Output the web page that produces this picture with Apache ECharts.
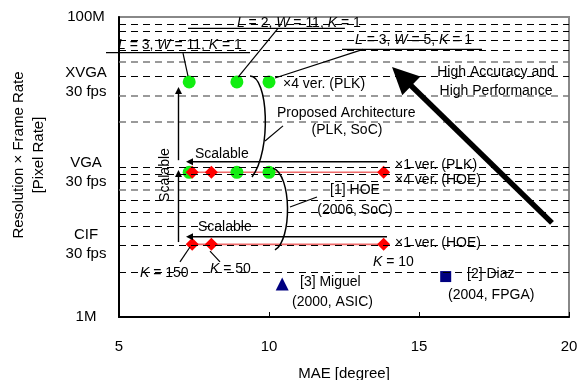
<!DOCTYPE html>
<html><head><meta charset="utf-8">
<script src="https://cdn.jsdelivr.net/npm/echarts@6/dist/echarts.min.js"></script>
<style>html,body{margin:0;padding:0;background:#fff}#c{width:577px;height:380px}</style>
</head><body><div id="c"></div>
<script>
const FONT = '"Liberation Sans", Arial, sans-serif';

// ---- data ----
const xTicks = [5, 10, 15, 20];
const yLabelValues = [1e6, 3.05e6, 9.22e6, 3.69e7, 1e8];
const yLabelTexts = ['1M', 'CIF\n30 fps', 'VGA\n30 fps', 'XVGA\n30 fps', '100M'];
const gridValues = [2e6, 3e6, 4e6, 5e6, 6e6, 7e6, 8e6, 9e6, 1e7, 2e7, 3e7, 4e7, 5e7, 6e7, 7e7, 8e7, 9e7];
const grayGridValues = [7e6, 2e7, 3e7, 5e7];
const plkMae = [7.34, 8.93, 10.0];
const plkXVGA = [3.69e7, 3.69e7, 3.69e7];
const plkVGA = [9.22e6, 9.22e6, 9.22e6];
const hoeMae = [7.44, 8.08, 13.82];
const hoeVGA = [9.22e6, 9.22e6, 9.22e6];
const hoeCIF = [3.05e6, 3.05e6, 3.05e6];
const miguelPoint = [10.44, 1.66e6];
const diazPoint = [15.89, 1.86e6];

const pairs = (xs, ys) => xs.map((x, i) => [x, ys[i]]);

const chart = echarts.init(document.getElementById('c'), null, {renderer: 'canvas'});

chart.setOption({
  animation: false,
  textStyle: {fontFamily: FONT},
  grid: {left: 119, right: 8, top: 17, bottom: 63, show: true, borderColor: '#888', borderWidth: 2,
    containLabel: false, outerBoundsMode: 'none'},
  xAxis: {
    type: 'value', min: xTicks[0], max: xTicks[xTicks.length - 1], interval: 5,
    name: 'MAE [degree]', nameLocation: 'middle', nameGap: 49,
    nameTextStyle: {fontSize: 15, color: '#000', fontFamily: FONT},
    axisLine: {show: true, lineStyle: {color: '#000', width: 2}},
    axisTick: {show: true, inside: true, length: 5, lineStyle: {color: '#000', width: 1}},
    axisLabel: {fontSize: 15, color: '#000', margin: 22, fontFamily: FONT},
    splitLine: {show: false}
  },
  yAxis: {
    type: 'log', logBase: 10, min: 1e6, max: 1e8,
    axisLine: {show: true, lineStyle: {color: '#000', width: 2}},
    axisTick: {show: false},
    splitLine: {show: false},
    axisLabel: {
      customValues: yLabelValues,
      fontSize: 15, color: '#000', fontFamily: FONT, align: 'center', verticalAlign: 'middle',
      margin: 33, lineHeight: 19, hideOverlap: false,
      formatter: function (v) {
        let best = 0, bd = Infinity;
        yLabelValues.forEach((c, i) => { const d = Math.abs(Math.log10(v) - Math.log10(c)); if (d < bd) { bd = d; best = i; } });
        return yLabelTexts[best];
      }
    }
  },
  series: [
    {
      type: 'scatter', data: [], z: 0, silent: true,
      markLine: {
        silent: true, symbol: ['none', 'none'], label: {show: false}, animation: false,
        data: gridValues.map(v => ({yAxis: v, lineStyle: grayGridValues.indexOf(v) >= 0 ?
          {color: '#7a7a7a', width: 1.6, type: [7, 5]} : {color: '#000', width: 1, type: [7, 5]}}))
      }
    },
    {type: 'line', data: pairs(hoeMae, hoeVGA), showSymbol: false, symbol: 'none', z: 1,
     lineStyle: {color: '#f06a6a', width: 1.6}},
    {type: 'line', data: pairs(hoeMae, hoeCIF), showSymbol: false, symbol: 'none', z: 1,
     lineStyle: {color: '#f06a6a', width: 1.6}},
    {type: 'scatter', data: pairs(plkMae, plkXVGA).concat(pairs(plkMae, plkVGA)), z: 2,
     symbol: 'circle', symbolSize: 13, itemStyle: {color: '#11ee11', opacity: 1}},
    {type: 'scatter', data: pairs(hoeMae, hoeVGA).concat(pairs(hoeMae, hoeCIF)), z: 3,
     symbol: 'diamond', symbolSize: 13, itemStyle: {color: '#ff0000', opacity: 1}},
    {type: 'scatter', data: [miguelPoint], z: 3, symbol: 'triangle', symbolSize: 13,
     itemStyle: {color: '#000080', opacity: 1}},
    {type: 'scatter', data: [diazPoint], z: 3, symbol: 'rect', symbolSize: 11,
     itemStyle: {color: '#000080', opacity: 1}}
  ]
});

// ---- annotations placed in data units (MAE, M pixel/s) ----
function P(x, m) { return chart.convertToPixel({gridIndex: 0}, [x, m * 1e6]); }
const G = [];
const rich = {i: {fontStyle: 'italic', fontSize: 14, fontFamily: FONT, fill: '#000'}};
function txt(s, x, m, align, rot) {
  const p = P(x, m);
  G.push({type: 'text', x: p[0], y: p[1], rotation: rot || 0, z: 60, silent: true,
    style: {text: s, fill: '#000', fontSize: 14, fontFamily: FONT, align: align || 'left',
      verticalAlign: 'middle', rich: rich}});
}
function line(a, b, w) {
  const p = P(a[0], a[1]), q = P(b[0], b[1]);
  G.push({type: 'line', z: 55, silent: true, shape: {x1: p[0], y1: p[1], x2: q[0], y2: q[1]},
    style: {stroke: '#000', lineWidth: w || 1.2}});
}
function curve(a, c1, c2, b, w) {
  const p = P(a[0], a[1]), k1 = P(c1[0], c1[1]), k2 = P(c2[0], c2[1]), q = P(b[0], b[1]);
  G.push({type: 'bezierCurve', z: 55, silent: true,
    shape: {x1: p[0], y1: p[1], cpx1: k1[0], cpy1: k1[1], cpx2: k2[0], cpy2: k2[1], x2: q[0], y2: q[1]},
    style: {stroke: '#000', lineWidth: w || 1.5, fill: null}});
}
function arrow(a, b, w, hl, hw) {
  const p = P(a[0], a[1]), q = P(b[0], b[1]);
  const dx = q[0] - p[0], dy = q[1] - p[1], L = Math.hypot(dx, dy), ux = dx / L, uy = dy / L;
  const bx = q[0] - ux * hl, by = q[1] - uy * hl;
  G.push({type: 'line', z: 55, silent: true,
    shape: {x1: p[0], y1: p[1], x2: q[0] - ux * hl * 0.7, y2: q[1] - uy * hl * 0.7},
    style: {stroke: '#000', lineWidth: w}});
  G.push({type: 'polygon', z: 56, silent: true,
    shape: {points: [[q[0], q[1]], [bx - uy * hw, by + ux * hw], [bx + uy * hw, by - ux * hw]]},
    style: {fill: '#000'}});
}

// parameter labels + underlines + leaders
txt('{i|L} = 2, {i|W} = 11, {i|K} = 1', 8.93, 91.6);
line([7.3, 84.1], [12.53, 84.1]);
line([10.3, 84.1], [8.97, 39.8]);
txt('{i|L} = 3, {i|W} = 11, {i|K} = 1', 4.967, 65.1);
line([4.567, 57.8], [9.367, 57.8]);
line([7.133, 57.5], [7.3, 40.4]);
txt('{i|L} = 3, {i|W} = 5, {i|K} = 1', 12.867, 70.3);
line([12.433, 60.9], [17.1, 60.9]);
line([13.133, 60.9], [10.2, 39.2]);
txt('\u00d74 ver. (PLK)', 10.467, 35.7);

// proposed architecture
txt('Proposed Architecture', 10.267, 22.9);
txt('(PLK, SoC)', 12.6, 17.6, 'center');
line([10.467, 18.8], [9.867, 14.9]);
curve([9.367, 40.4], [9.967, 40.4], [10.1, 13.0], [9.433, 8.58]);

// HOE
txt('[1] HOE', 12.867, 7.03, 'center');
txt('(2006, SoC)', 12.867, 5.17, 'center');
line([11.6, 6.31], [10.7, 5.41]);
curve([10.133, 9.85], [10.767, 8.84], [10.767, 3.26], [10.2, 2.80]);

// version labels
txt('\u00d71 ver. (PLK)', 14.2, 10.3);
txt('\u00d74 ver. (HOE)', 14.2, 8.19);
txt('\u00d71 ver. (HOE)', 14.2, 3.11);

// scalable arrows
txt('Scalable', 7.533, 12.2);
txt('Scalable', 7.633, 3.98);
txt('Scalable', 6.533, 8.84, 'center', Math.PI / 2);
arrow([13.933, 10.85], [7.233, 10.85], 1.6, 7, 3.5);
arrow([13.933, 3.43], [7.233, 3.43], 1.6, 7, 3.5);
arrow([6.983, 11.1], [6.983, 34.1], 1.4, 7, 3.5);
arrow([6.983, 3.16], [6.983, 9.55], 1.4, 7, 3.5);

// K labels
txt('{i|K} = 150', 5.7, 1.96);
line([7.033, 2.33], [7.367, 2.93]);
txt('{i|K} = 50', 8.033, 2.09);
line([8.367, 2.33], [8.033, 2.75]);
txt('{i|K} = 10', 13.467, 2.33);

// other works
txt('[3] Miguel', 11.033, 1.71);
txt('(2000, ASIC)', 10.767, 1.26);
txt('[2] Diaz', 16.6, 1.93);
txt('(2004, FPGA)', 15.967, 1.40);

// high accuracy arrow
txt('High Accuracy and', 17.567, 43.1, 'center');
txt('High Performance', 17.567, 31.8, 'center');
arrow([19.433, 4.24], [14.1, 46.4], 5.5, 27, 13);

// y axis title
G.push({type: 'text', x: 29, y: 155, rotation: Math.PI / 2, z: 60, silent: true,
  style: {text: 'Resolution \u00d7 Frame Rate\n[Pixel Rate]', fill: '#000', fontSize: 15, fontFamily: FONT,
    align: 'center', verticalAlign: 'middle', lineHeight: 20}});

chart.setOption({graphic: G});
</script>
</body></html>
